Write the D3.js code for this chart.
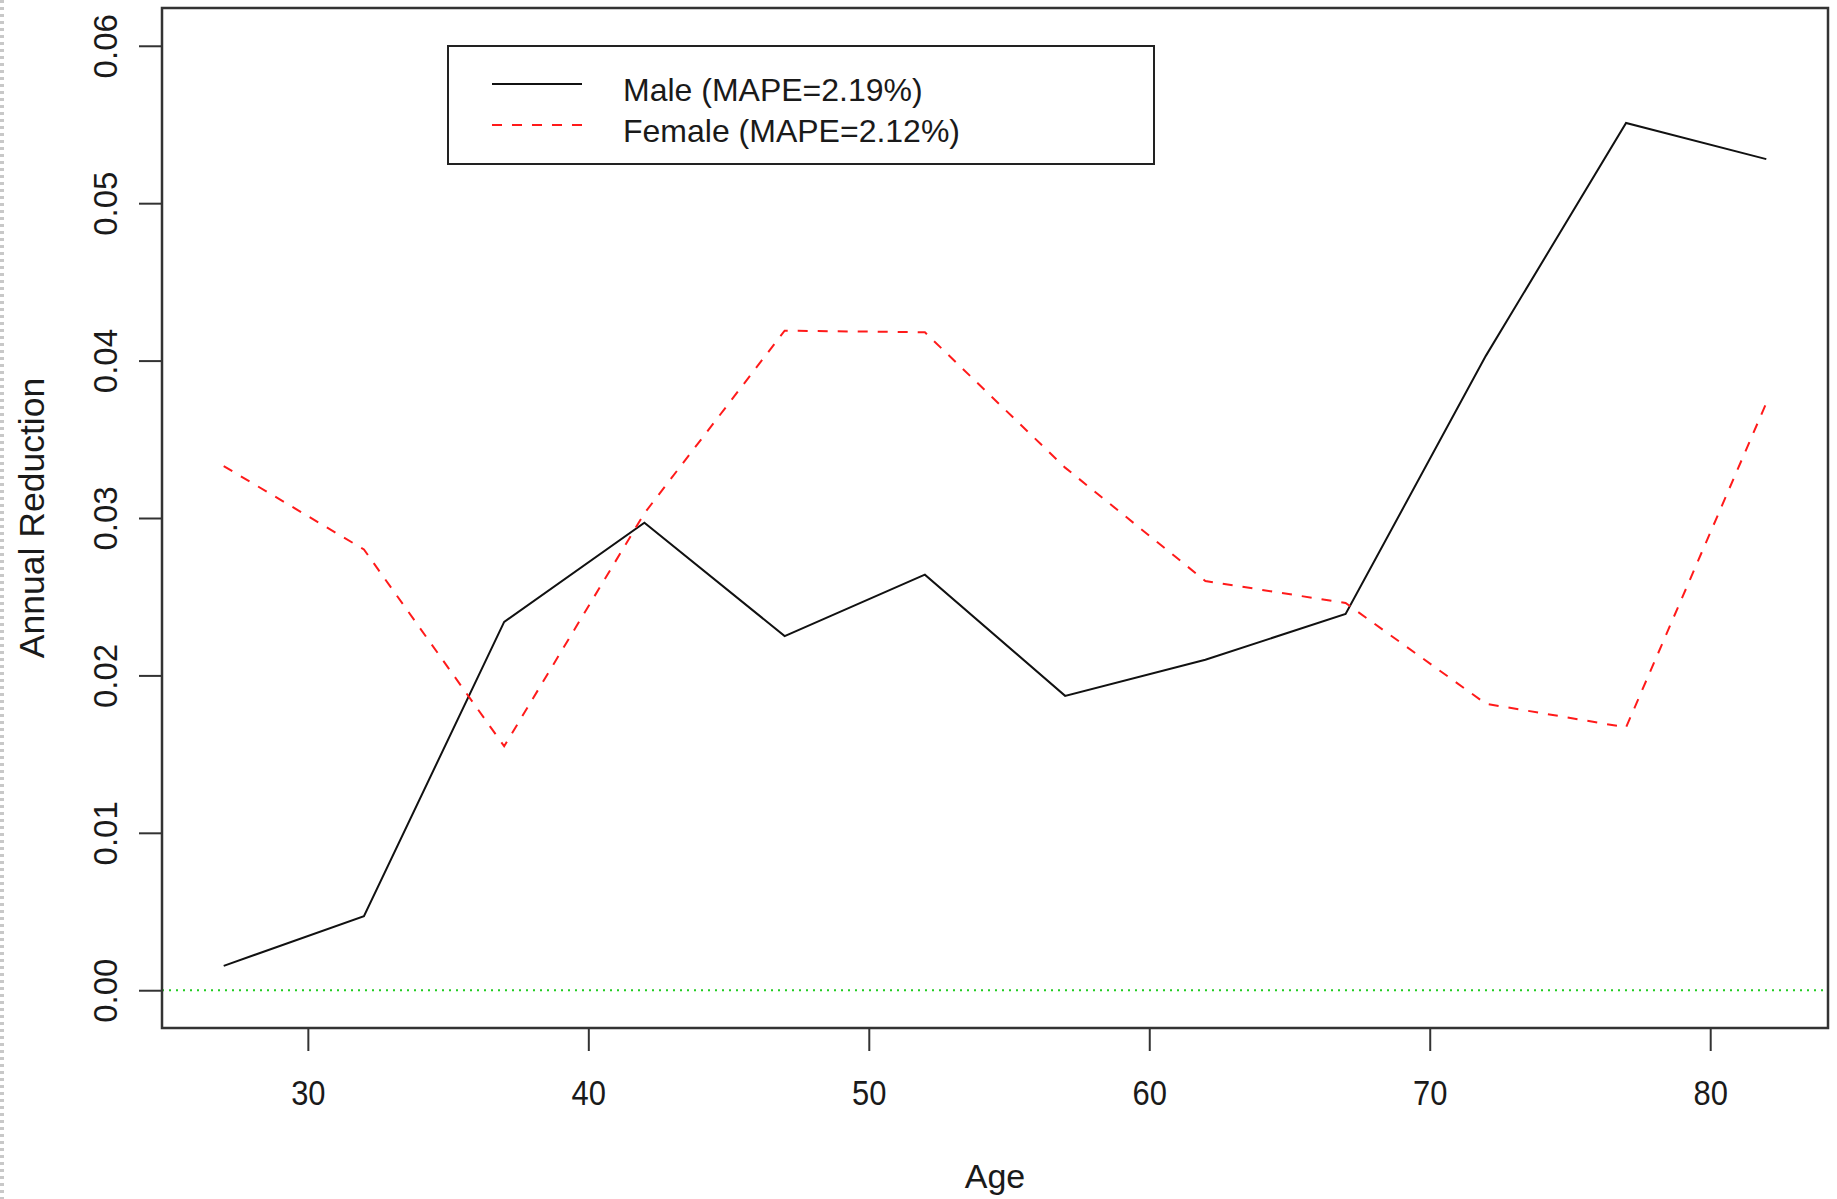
<!DOCTYPE html>
<html>
<head>
<meta charset="utf-8">
<script src="https://cdn.jsdelivr.net/npm/d3@7"></script>
<style>
  body { margin: 0; background: #fff; }
  text { font-family: "Liberation Sans", Arial, sans-serif; fill: #1a1a1a; }
</style>
</head>
<body>
<div id="chart"></div>
<script>
// ages and annual reduction values
var ages = [27, 32, 37, 42, 47, 52, 57, 62, 67, 72, 77, 82];
var male = [0.00155, 0.0047, 0.0234, 0.0297, 0.0225, 0.0264, 0.0187, 0.0210, 0.0239, 0.0403, 0.0551, 0.0528];
var female = [0.0333, 0.0280, 0.0155, 0.0303, 0.0419, 0.0418, 0.0332, 0.0260, 0.0246, 0.0182, 0.0167, 0.0373];
var xTicks = [30, 40, 50, 60, 70, 80];
var yTicks = [0, 0.01, 0.02, 0.03, 0.04, 0.05, 0.06];
var legendLabels = ["Male (MAPE=2.19%)", "Female (MAPE=2.12%)"];

var W = 1837, H = 1199;
var margin = {top: 8, right: 9, bottom: 171, left: 162};

var svg = d3.select("#chart").append("svg")
  .attr("width", W)
  .attr("height", H);

// grey dashed strip on the left edge of the screenshot
svg.append("line")
  .attr("x1", 2).attr("x2", 2).attr("y1", 0).attr("y2", H)
  .attr("stroke", "#c8c8c8").attr("stroke-width", 4)
  .attr("stroke-dasharray", "3,4");

// R style limits: data range padded by 4%
var x = d3.scaleLinear()
  .domain([24.8, 84.2])
  .range([margin.left, W - margin.right]);
var y = d3.scaleLinear()
  .domain([-0.0024, 0.0624])
  .range([H - margin.bottom, margin.top]);

// x axis
var xAxis = svg.append("g")
  .attr("transform", "translate(0," + (H - margin.bottom) + ")")
  .call(d3.axisBottom(x).tickValues(xTicks).tickSize(23).tickSizeOuter(0));
xAxis.select(".domain").remove();
xAxis.selectAll("line").attr("stroke", "#333").attr("stroke-width", 2);
xAxis.selectAll("text")
  .attr("font-size", 36)
  .attr("fill", "#1a1a1a")
  .attr("y", 77)
  .attr("dy", 0)
  .attr("transform", "scale(0.86,1)");

// y axis, labels rotated like R's default
var yAxis = svg.append("g")
  .attr("transform", "translate(" + margin.left + ",0)")
  .call(d3.axisLeft(y).tickValues(yTicks).tickSize(23).tickSizeOuter(0).tickFormat(d3.format(".2f")));
yAxis.select(".domain").remove();
yAxis.selectAll("line").attr("stroke", "#333").attr("stroke-width", 2);
yAxis.selectAll("text")
  .attr("font-size", 33)
  .attr("fill", "#1a1a1a")
  .attr("text-anchor", "middle")
  .attr("dy", 0)
  .attr("x", null)
  .attr("transform", "translate(-45,0) rotate(-90)");

// zero reference line
svg.append("line")
  .attr("x1", x(24.8)).attr("x2", x(84.2))
  .attr("y1", y(0)).attr("y2", y(0))
  .attr("stroke", "#22cc22").attr("stroke-width", 2)
  .attr("stroke-dasharray", "2,5");

var line = d3.line()
  .x(function(d) { return x(d[0]); })
  .y(function(d) { return y(d[1]); });

svg.append("path")
  .datum(d3.zip(ages, male))
  .attr("d", line)
  .attr("fill", "none")
  .attr("stroke", "#111")
  .attr("stroke-width", 2);

svg.append("path")
  .datum(d3.zip(ages, female))
  .attr("d", line)
  .attr("fill", "none")
  .attr("stroke", "#ff1a1a")
  .attr("stroke-width", 2)
  .attr("stroke-dasharray", "10,10");

// plot box
svg.append("rect")
  .attr("x", margin.left)
  .attr("y", margin.top)
  .attr("width", W - margin.left - margin.right)
  .attr("height", H - margin.top - margin.bottom)
  .attr("fill", "none")
  .attr("stroke", "#333")
  .attr("stroke-width", 2.5);

// axis titles
svg.append("text")
  .attr("x", (margin.left + W - margin.right) / 2)
  .attr("y", 1188)
  .attr("text-anchor", "middle")
  .attr("font-size", 34)
  .text("Age");

svg.append("text")
  .attr("transform", "translate(44," + ((margin.top + H - margin.bottom) / 2) + ") rotate(-90)")
  .attr("text-anchor", "middle")
  .attr("font-size", 35.5)
  .text("Annual Reduction");

// legend
var legend = svg.append("g");
legend.append("rect")
  .attr("x", 448).attr("y", 46)
  .attr("width", 706).attr("height", 118)
  .attr("fill", "#fff")
  .attr("stroke", "#222")
  .attr("stroke-width", 2);

var legendStyles = [
  {color: "#111", dash: null},
  {color: "#ff1a1a", dash: "10,10"}
];
legendLabels.forEach(function(label, i) {
  var ly = 84 + i * 41;
  legend.append("line")
    .attr("x1", 492).attr("x2", 582)
    .attr("y1", ly).attr("y2", ly)
    .attr("stroke", legendStyles[i].color)
    .attr("stroke-width", 2)
    .attr("stroke-dasharray", legendStyles[i].dash);
  legend.append("text")
    .attr("x", 623)
    .attr("y", ly + 17)
    .attr("font-size", 32)
    .text(label);
});
</script>
</body>
</html>
